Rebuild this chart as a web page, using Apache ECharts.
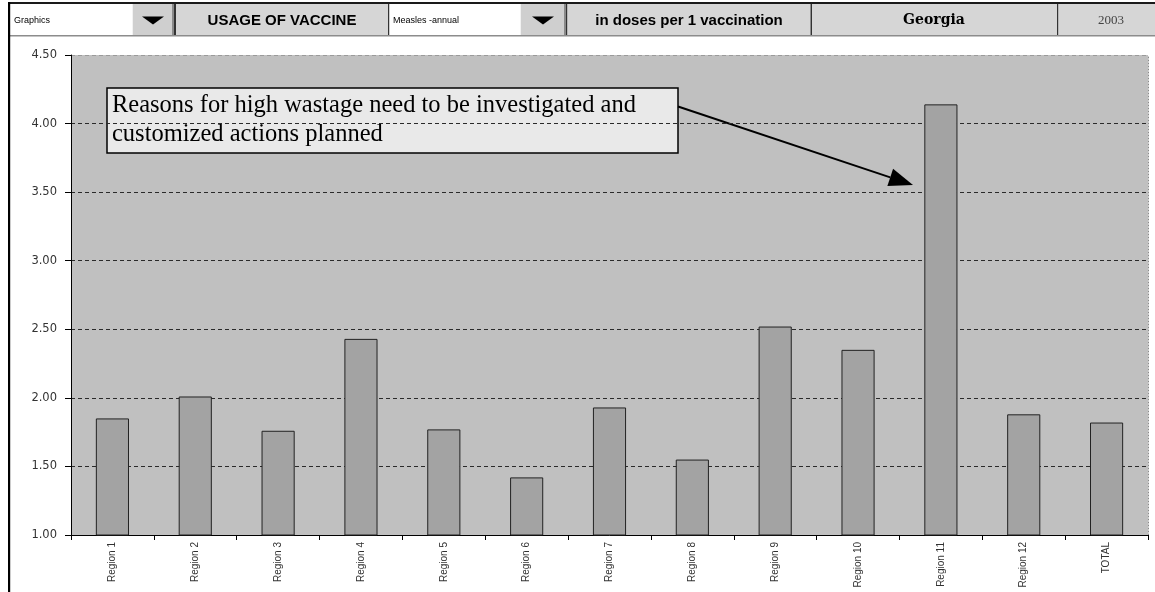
<!DOCTYPE html>
<html>
<head>
<meta charset="utf-8">
<script src="https://cdn.jsdelivr.net/npm/echarts@6/dist/echarts.min.js"></script>
<style>
  html, body { margin: 0; padding: 0; background: #ffffff; }
  #chart { width: 1155px; height: 592px; }
</style>
</head>
<body>
<div id="chart"></div>
<script>
// Vaccine usage (doses per 1 vaccination), measles, by region
const categories = ['Region 1', 'Region 2', 'Region 3', 'Region 4', 'Region 5', 'Region 6',
  'Region 7', 'Region 8', 'Region 9', 'Region 10', 'Region 11', 'Region 12', 'TOTAL'];
const dosesPerVaccination = [1.85, 2.01, 1.76, 2.43, 1.77, 1.42, 1.93, 1.55, 2.52, 2.35, 4.14, 1.88, 1.82];
const yMin = 1.0;
const yMax = 4.5;
const yStep = 0.5;

// Header strip texts
const headerLabels = ['Graphics', 'USAGE OF VACCINE', 'Measles -annual', 'in doses per 1 vaccination', 'Georgia', '2003'];
const noteLines = ['Reasons for high wastage need to be investigated and', 'customized actions planned'];

const chart = echarts.init(document.getElementById('chart'), null, { renderer: 'canvas' });

const headerTop = 4, headerBottom = 35, headerMid = 20.5;
const graphics = [];

function rect(x, y, w, h, fill, stroke, lw) {
  graphics.push({ type: 'rect', shape: { x, y, width: w, height: h },
    style: { fill: fill || 'transparent', stroke: stroke || null, lineWidth: lw || 0 }, silent: true });
}
function text(str, x, y, font, fill, align) {
  graphics.push({ type: 'text', x, y, silent: true,
    style: { text: str, font, fill, textAlign: align || 'left', textVerticalAlign: 'middle' } });
}
function dropButton(x0, x1) {
  rect(x0, headerTop, x1 - x0, headerBottom - headerTop, '#cfcfcf');
  rect(x0, headerTop, 1, headerBottom - headerTop, '#f2f2f2');
  rect(x1 - 2, headerTop, 2, headerBottom - headerTop, '#8a8a8a');
  const cx = (x0 + x1) / 2;
  graphics.push({ type: 'polygon', silent: true,
    shape: { points: [[cx - 11, headerMid - 4], [cx + 11, headerMid - 4], [cx, headerMid + 4]] },
    style: { fill: '#000' } });
}

// header cells
rect(10, headerTop, 122, headerBottom - headerTop, '#ffffff');
text(headerLabels[0], 14, headerMid, '9px "Liberation Sans", Arial, sans-serif', '#000');
dropButton(132, 174);
rect(174, headerTop, 2, headerBottom - headerTop, '#333');
rect(176, headerTop, 212, headerBottom - headerTop, '#d6d6d6');
text(headerLabels[1], 282, headerMid, 'bold 15px "Liberation Sans", Arial, sans-serif', '#000', 'center');
rect(388, headerTop, 1.5, headerBottom - headerTop, '#333');
rect(389.5, headerTop, 131, headerBottom - headerTop, '#ffffff');
text(headerLabels[2], 393, headerMid, '9px "Liberation Sans", Arial, sans-serif', '#000');
dropButton(520, 566);
rect(566, headerTop, 1.5, headerBottom - headerTop, '#333');
rect(567.5, headerTop, 243, headerBottom - headerTop, '#d6d6d6');
text(headerLabels[3], 689, headerMid, 'bold 15px "Liberation Sans", Arial, sans-serif', '#000', 'center');
rect(810.5, headerTop, 1.5, headerBottom - headerTop, '#333');
rect(812, headerTop, 245, headerBottom - headerTop, '#d6d6d6');
text(headerLabels[4], 934, headerMid, 'bold 14px "DejaVu Serif", "Liberation Serif", serif', '#000', 'center');
rect(1057, headerTop, 1.5, headerBottom - headerTop, '#333');
rect(1058.5, headerTop, 97, headerBottom - headerTop, '#d6d6d6');
text(headerLabels[5], 1111, headerMid, '13px "Liberation Serif", serif', '#444', 'center');
rect(8, 2, 1147, 2, '#1a1a1a');
rect(10, headerBottom, 1145, 1.5, '#8c8c8c');
// frame line on the left
rect(8, 2, 2.2, 590, '#000');

// annotation box and arrow
rect(107, 88, 571, 65, '#e9e9e9', '#000', 1.5);
text(noteLines[0], 112, 106, '24.5px "Liberation Serif", "Times New Roman", serif', '#000');
text(noteLines[1], 112, 135, '24.5px "Liberation Serif", "Times New Roman", serif', '#000');
const a0 = [678, 106.5], a1 = [913, 185];
const dx = a1[0] - a0[0], dy = a1[1] - a0[1];
const len = Math.sqrt(dx * dx + dy * dy), ux = dx / len, uy = dy / len;
const headLen = 24, headHalf = 9;
const base = [a1[0] - ux * headLen, a1[1] - uy * headLen];
graphics.push({ type: 'line', silent: true,
  shape: { x1: a0[0], y1: a0[1], x2: base[0], y2: base[1] },
  style: { stroke: '#000', lineWidth: 2 } });
graphics.push({ type: 'polygon', silent: true,
  shape: { points: [a1, [base[0] - uy * headHalf, base[1] + ux * headHalf], [base[0] + uy * headHalf, base[1] - ux * headHalf]] },
  style: { fill: '#000' } });

const gridLineColors = [];
for (let v = yMin; v <= yMax + 1e-9; v += yStep) gridLineColors.push(v >= yMax - 1e-9 ? '#9a9a9a' : '#2a2a2a');

chart.setOption({
  animation: false,
  backgroundColor: '#ffffff',
  grid: { left: 71, right: 7, top: 55, bottom: 57, show: true, backgroundColor: '#c0c0c0', borderWidth: 0,
    containLabel: false, outerBoundsMode: 'none' },
  xAxis: {
    type: 'category',
    data: categories,
    axisLine: { show: true, lineStyle: { color: '#000', width: 1 } },
    axisTick: { show: true, length: 5, lineStyle: { color: '#000' } },
    axisLabel: { rotate: 90, interval: 0, margin: 7, fontSize: 10, color: '#333',
      fontFamily: '"Liberation Sans Narrow", "Arial Narrow", "Liberation Sans", sans-serif' },
    splitLine: { show: false }
  },
  yAxis: [{
    type: 'value',
    min: yMin, max: yMax, interval: yStep,
    axisLine: { show: true, lineStyle: { color: '#000', width: 1 } },
    axisTick: { show: true, length: 6, lineStyle: { color: '#000' } },
    axisLabel: { margin: 14, fontSize: 11.5, color: '#333', fontFamily: '"DejaVu Sans", Verdana, sans-serif',
      formatter: v => v.toFixed(2) },
    splitLine: { show: true, lineStyle: { color: gridLineColors, type: [4, 3], width: 1 } }
  }, {
    type: 'value',
    position: 'right',
    min: yMin, max: yMax, interval: yStep,
    axisLine: { show: true, lineStyle: { color: '#8a8a8a', type: [1, 2], width: 1 } },
    axisTick: { show: false },
    axisLabel: { show: false },
    splitLine: { show: false }
  }],
  series: [{
    type: 'bar',
    data: dosesPerVaccination,
    yAxisIndex: 0,
    barWidth: '40%',
    itemStyle: { color: '#a3a3a3', borderColor: '#222', borderWidth: 1 }
  }],
  graphic: graphics
});
</script>
</body>
</html>
